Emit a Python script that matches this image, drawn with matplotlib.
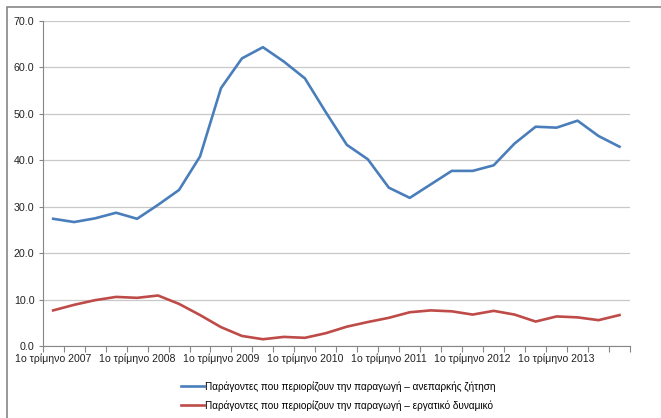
import matplotlib.pyplot as plt
import numpy as np
from matplotlib.patches import Rectangle

plt.rcParams["font.family"] = ["Liberation Sans", "DejaVu Sans"]

years = ["2007", "2008", "2009", "2010", "2011", "2012", "2013"]
demand = [27.4, 26.7, 27.5, 28.7, 27.4, 30.4, 33.6, 40.8, 55.5, 61.9, 64.3, 61.2, 57.6, 50.3,
          43.3, 40.2, 34.1, 31.9, 34.8, 37.7, 37.7, 38.9, 43.6, 47.2, 47.0, 48.5, 45.2, 42.9]
labour = [7.7, 8.9, 9.9, 10.6, 10.4, 10.9, 9.1, 6.7, 4.1, 2.2, 1.5, 2.0, 1.8, 2.8,
          4.2, 5.2, 6.1, 7.3, 7.7, 7.5, 6.8, 7.6, 6.8, 5.3, 6.4, 6.2, 5.6, 6.7]
names = ["Παράγοντες που περιορίζουν την παραγωγή – ανεπαρκής ζήτηση",
         "Παράγοντες που περιορίζουν την παραγωγή – εργατικό δυναμικό"]

fig = plt.figure(figsize=(6.61, 4.18), dpi=100)
ax = fig.add_axes([42.7 / 661, 71.8 / 418, 587.3 / 661, 325.5 / 418])

x = np.arange(len(demand))
ax.plot(x, demand, color="#4a7ebb", lw=1.9, label=names[0])
ax.plot(x, labour, color="#be4b48", lw=1.9, label=names[1])

ax.set_xlim(-0.5, len(demand) - 0.5)
ax.set_ylim(0, 70)
ax.set_yticks(np.arange(0, 71, 10))
ax.set_yticklabels(["%.1f" % v for v in np.arange(0, 71, 10)], fontsize=7.7, color="#222222")
ax.yaxis.grid(True, color="#c8c8c8", lw=0.9)
ax.set_axisbelow(True)

# category labels every 4th quarter, tick marks between categories
ax.set_xticks(np.arange(-0.5, len(demand), 1))
ax.set_xticklabels([])
ax.set_xticks(np.arange(0, len(demand), 4), minor=True)
ax.set_xticklabels(["1ο τρίμηνο " + y for y in years], minor=True, fontsize=7.6, color="#222222")
ax.tick_params(axis="x", which="major", length=4, color="#868686")
ax.tick_params(axis="x", which="minor", length=0, pad=5)
ax.tick_params(axis="y", length=3, color="#868686", pad=3)

for s in ["top", "right"]:
    ax.spines[s].set_visible(False)
for s in ["left", "bottom"]:
    ax.spines[s].set_color("#868686")

ax.legend(loc="upper center", bbox_to_anchor=(0.503, -0.08), frameon=False, fontsize=7.2,
          handlelength=2.3, handletextpad=0.1, labelspacing=0.85)

fig.patches.append(Rectangle((7 / 661, -0.01), 1, 1 - 7 / 418 + 0.01, transform=fig.transFigure,
                             fill=False, edgecolor="#868686", lw=1.2))

fig.savefig("out.png", dpi=100)
